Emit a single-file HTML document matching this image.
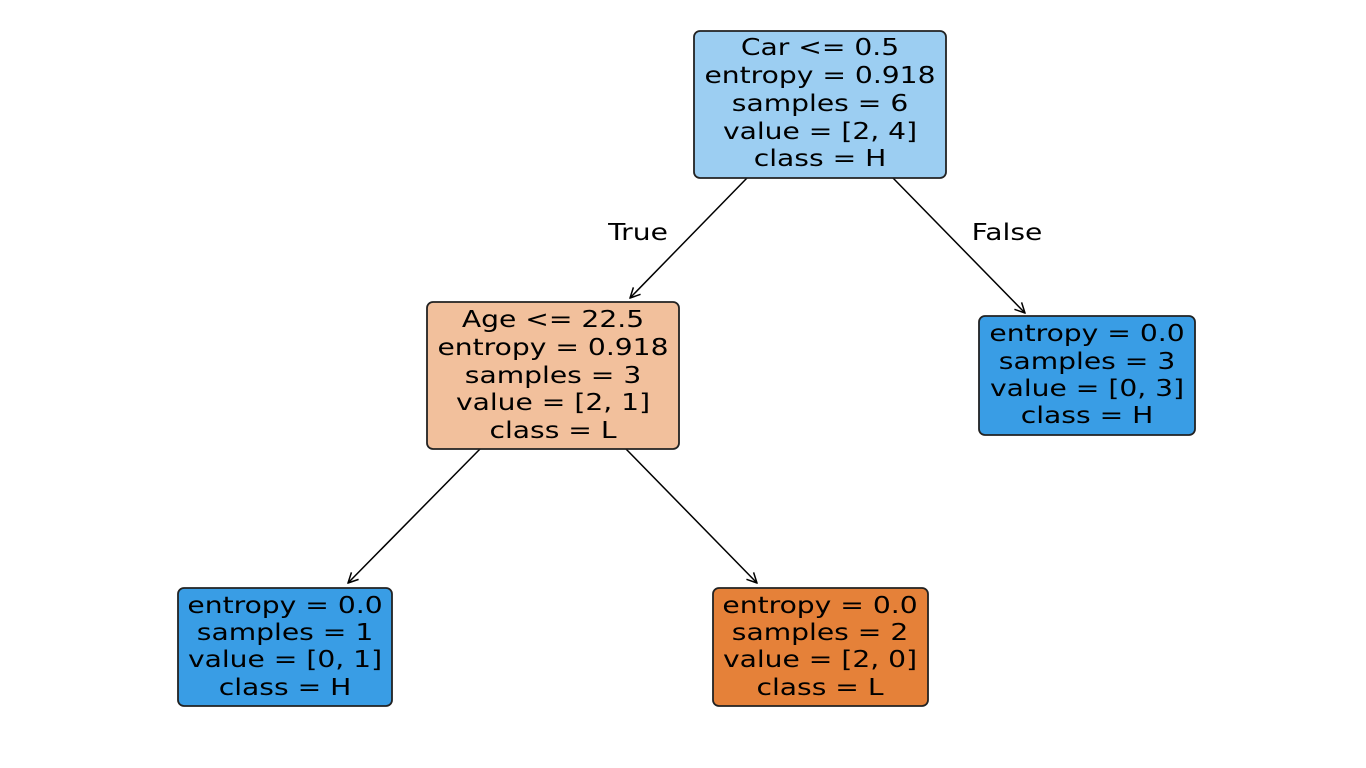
<!DOCTYPE html>
<html><head><meta charset="utf-8"><style>html,body{margin:0;padding:0;background:#fff}svg{display:block}</style></head>
<body>
<svg width="1366" height="768" viewBox="0 0 1366 768" xmlns="http://www.w3.org/2000/svg" font-family="DejaVu Sans, Liberation Sans, sans-serif" font-size="23" fill="#000">
<defs>
<marker id="a" viewBox="0 0 12 12" refX="11" refY="6" markerWidth="12" markerHeight="12" markerUnits="userSpaceOnUse" orient="auto">
<path d="M1,1 L11,6 L1,11" fill="none" stroke="#000" stroke-width="1.5"/>
</marker>
</defs>
<g stroke="#000" stroke-width="1.5" marker-end="url(#a)">
<line x1="747" y1="178" x2="630" y2="298"/>
<line x1="893" y1="178" x2="1025" y2="313"/>
<line x1="480" y1="449" x2="348" y2="583"/>
<line x1="626" y1="449" x2="757" y2="583"/>
</g>
<g stroke="#222" stroke-width="1.8">
<rect x="694" y="31" width="252" height="147" rx="6" fill="#9ccef2"/>
<rect x="427" y="302" width="252" height="147" rx="6" fill="#f2c09c"/>
<rect x="979" y="316" width="216" height="119" rx="6" fill="#399de5"/>
<rect x="178" y="588" width="214" height="118" rx="6" fill="#399de5"/>
<rect x="713" y="588" width="215" height="118" rx="6" fill="#e58139"/>
</g>
<g text-anchor="middle">
<g transform="translate(820,0) scale(1.225,1)">
<text y="55">Car &lt;= 0.5</text><text y="83">entropy = 0.918</text><text y="111">samples = 6</text><text y="139">value = [2, 4]</text><text y="166">class = H</text>
</g>
<g transform="translate(553,0) scale(1.225,1)">
<text y="327">Age &lt;= 22.5</text><text y="355">entropy = 0.918</text><text y="383">samples = 3</text><text y="410">value = [2, 1]</text><text y="438">class = L</text>
</g>
<g transform="translate(1087,0) scale(1.225,1)">
<text y="341">entropy = 0.0</text><text y="369">samples = 3</text><text y="396">value = [0, 3]</text><text y="423">class = H</text>
</g>
<g transform="translate(285,0) scale(1.225,1)">
<text y="613">entropy = 0.0</text><text y="640">samples = 1</text><text y="667">value = [0, 1]</text><text y="695">class = H</text>
</g>
<g transform="translate(820,0) scale(1.225,1)">
<text y="613">entropy = 0.0</text><text y="640">samples = 2</text><text y="667">value = [2, 0]</text><text y="695">class = L</text>
</g>
<g transform="translate(638,0) scale(1.225,1)"><text y="240">True</text></g>
<g transform="translate(1007,0) scale(1.225,1)"><text y="240">False</text></g>
</g>
</svg>
</body></html>
